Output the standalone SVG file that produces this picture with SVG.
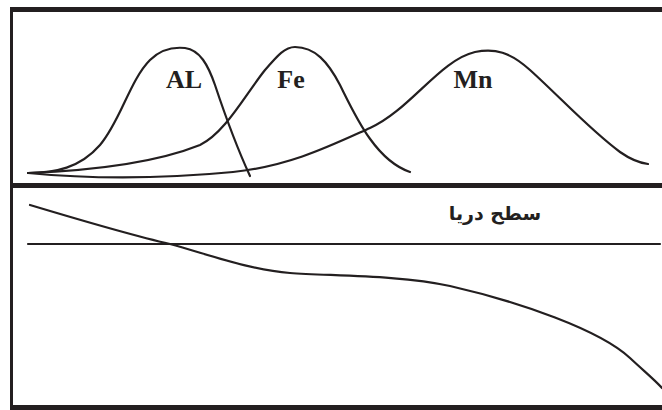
<svg xmlns="http://www.w3.org/2000/svg" width="662" height="410" viewBox="0 0 662 410">
<style>
.frame{stroke:#231f20;fill:none}
.curve{stroke:#231f20;stroke-width:2.2;fill:none;stroke-linecap:round}
.lbl{font-family:"Liberation Serif",serif;font-weight:bold;font-size:26px;fill:#231f20;text-anchor:middle}
.ar{font-family:"DejaVu Sans","Noto Sans",sans-serif;font-weight:bold;font-size:19px;fill:#231f20;text-anchor:middle}
</style>
<rect width="662" height="410" fill="#ffffff"/>
<g id="frame">
<line class="frame" x1="11.5" y1="7" x2="11.5" y2="410" stroke-width="3"/>
<line class="frame" x1="10" y1="9.5" x2="662" y2="9.5" stroke-width="5"/>
<line class="frame" x1="10" y1="185.5" x2="662" y2="185.5" stroke-width="5"/>
<line class="frame" x1="10" y1="407.5" x2="662" y2="407.5" stroke-width="5"/>
</g>
<g id="curve-al">
<path class="curve" d="M28,173 C55,173 80,168 100,145 C120,122 130,80 150,60 C162,48 175,47 185,48 C200,50 208,65 215,85 C225,115 238,150 250,176"/>
<text class="lbl" x="184" y="88">AL</text>
</g>
<g id="curve-fe">
<path class="curve" d="M28,173 C80,171 150,165 200,145 C225,133 245,95 265,70 C278,55 285,47 295,47 C315,47 328,62 340,85 C355,115 375,160 410,172"/>
<text class="lbl" x="291" y="88">Fe</text>
</g>
<g id="curve-mn">
<path class="curve" d="M28,173 C80,178 150,180 233,172 C290,166 330,146 370,128 C410,110 440,60 475,52 C495,48 510,52 530,70 C560,97 590,130 620,152 C630,159 640,163 648,164"/>
<text class="lbl" x="473" y="88">Mn</text>
</g>
<g id="sea-level">
<line class="curve" x1="28" y1="244" x2="660" y2="244" stroke-width="2"/>
<text class="ar" x="495" y="220">سطح دریا</text>
</g>
<g id="profile">
<path class="curve" d="M30,205 C80,220 130,235 170,244 C210,255 250,270 290,273 C330,276 400,275 450,286 C520,302 600,330 630,358 C645,372 655,380 662,388"/>
</g>
</svg>
